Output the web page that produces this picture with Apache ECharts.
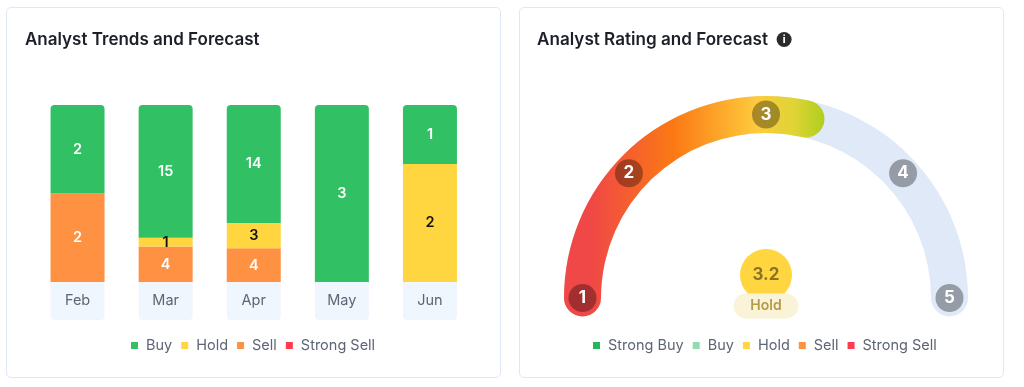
<!DOCTYPE html>
<html>
<head>
<meta charset="utf-8">
<title>Analyst charts</title>
<script src="https://cdn.jsdelivr.net/npm/echarts@6/dist/echarts.min.js"></script>
<style>
  html, body { margin: 0; padding: 0; background: #ffffff; }
  .panel { position: absolute; top: 7px; height: 371px; box-sizing: border-box;
           border: 1px solid #dfe8f6; border-radius: 5px; background: #ffffff; }
  #trends { left: 6px; width: 495px; }
  #rating { left: 519px; width: 485px; }
</style>
</head>
<body>
<div id="trends" class="panel"></div>
<div id="rating" class="panel"></div>
<script>
const FONT = 'Inter';
const months = ['Feb', 'Mar', 'Apr', 'May', 'Jun'];
const buy = [2, 15, 14, 3, 1];
const hold = [0, 1, 3, 0, 2];
const sell = [2, 4, 4, 0, 0];
const strongSell = [0, 0, 0, 0, 0];

const ratingTicks = [1, 2, 3, 4, 5];
// where each numbered badge sits along the arc
const ratingTickPositions = [1, 1.94, 3, 4.06, 5];
const ratingTickRadii = [1, 1.01, 1, 1.01, 1];
const ratingScore = 3.2;
const ratingLabel = 'Hold';
// the coloured arc ends a little past the score in the picture
const ratingArcEnd = 3.28;
const ratingLegendNames = ['Strong Buy', 'Buy', 'Hold', 'Sell', 'Strong Sell'];
const ratingLegendColors = ['#22b85a', '#8fdcae', '#ffd640', '#ff9142', '#ff3b50'];

const totals = months.map((_, i) => buy[i] + hold[i] + sell[i] + strongSell[i]);

function stackSeries(name, values, color, labelColor, radius) {
  return {
    name: name,
    type: 'bar',
    stack: 'total',
    barWidth: 54,
    data: values.map((v, i) => (v / totals[i]) * 100),
    itemStyle: { color: color, borderRadius: radius },
    label: {
      show: true,
      position: 'inside',
      color: labelColor,
      fontFamily: FONT,
      fontSize: 14.5,
      fontWeight: 600,
      formatter: (p) => (values[p.dataIndex] ? String(values[p.dataIndex]) : ''),
    },
  };
}

const trendsChart = echarts.init(document.getElementById('trends'));
trendsChart.setOption({
  animation: false,
  title: {
    text: 'Analyst Trends and Forecast',
    left: 13,
    top: 18,
    textStyle: { fontFamily: FONT, fontSize: 17, fontWeight: 600, color: '#1b1f27' },
  },
  legend: {
    data: ['Buy', 'Hold', 'Sell', 'Strong Sell'],
    left: 119,
    top: 325,
    icon: 'rect',
    itemWidth: 7,
    itemHeight: 7,
    itemGap: 9,
    selectedMode: false,
    textStyle: { fontFamily: FONT, fontSize: 14.5, color: '#5d6675', padding: [0, 0, 0, 3] },
  },
  grid: { left: 26.5, top: 97, width: 440.5, height: 177 },
  xAxis: {
    type: 'category',
    data: months,
    axisLine: { show: false },
    axisTick: { show: false },
    axisLabel: {
      margin: 0,
      width: 54,
      height: 38,
      lineHeight: 38,
      align: 'center',
      backgroundColor: '#f0f6fd',
      borderRadius: [0, 0, 4, 4],
      color: '#5d6675',
      fontFamily: FONT,
      fontSize: 14.5,
    },
  },
  yAxis: { type: 'value', min: 0, max: 100, show: false },
  series: [
    stackSeries('Strong Sell', strongSell, '#ff3b50', '#ffffff', 0),
    stackSeries('Sell', sell, '#ff9142', '#ffffff', 0),
    stackSeries('Hold', hold, '#ffd640', '#111111', 0),
    stackSeries('Buy', buy, '#32c064', '#ffffff', [4, 4, 0, 0]),
  ],
});

const ARC_CENTER = [246, 290];
const ratingChart = echarts.init(document.getElementById('rating'));
ratingChart.setOption({
  animation: false,
  title: {
    text: 'Analyst Rating and Forecast  {i|i}',
    left: 12,
    top: 18,
    textStyle: {
      fontFamily: FONT,
      fontSize: 17.1,
      fontWeight: 600,
      color: '#1b1f27',
      rich: {
        i: {
          width: 15,
          height: 15,
          lineHeight: 15,
          align: 'center',
          borderRadius: 8,
          backgroundColor: '#2b2b2b',
          color: '#ffffff',
          fontFamily: FONT,
          fontSize: 10,
          fontWeight: 800,
        },
      },
    },
  },
  legend: {
    data: ratingLegendNames,
    left: 68,
    top: 325,
    icon: 'rect',
    itemWidth: 7,
    itemHeight: 7,
    itemGap: 9,
    selectedMode: false,
    textStyle: { fontFamily: FONT, fontSize: 14.5, color: '#5d6675', padding: [0, 0, 0, 3] },
  },
  // radius axis runs to 1.1, so radius value 1 lands on the middle of the arc (183.5px)
  polar: { center: ARC_CENTER, radius: 201.85 },
  angleAxis: { type: 'value', min: 1, max: 5, startAngle: 180, endAngle: 0, show: false },
  radiusAxis: { type: 'value', min: 0, max: 1.1, show: false },
  series: [
    {
      type: 'gauge',
      center: ARC_CENTER,
      radius: 202,
      min: 1,
      max: 5,
      startAngle: 180,
      endAngle: 0,
      z: 2,
      axisLine: { roundCap: true, lineStyle: { width: 37, color: [[1, '#e0e9f8']] } },
      progress: {
        show: true,
        width: 37,
        roundCap: true,
        itemStyle: {
          color: new echarts.graphic.LinearGradient(0, 0, 1, 0, [
            { offset: 0.1, color: '#f04747' },
            { offset: 0.42, color: '#fb7914' },
            { offset: 0.74, color: '#fecb3c' },
            { offset: 0.88, color: '#e0d436' },
            { offset: 1, color: '#aecf1f' },
          ]),
        },
      },
      pointer: { show: false },
      axisTick: { show: false },
      splitLine: { show: false },
      axisLabel: { show: false },
      anchor: { show: false },
      // the circle is the gauge title so the "Hold" pill (detail) paints over it
      title: {
        offsetCenter: [0, -23],
        width: 52,
        height: 52,
        lineHeight: 52,
        borderRadius: 26,
        backgroundColor: '#ffd640',
        color: '#8a7326',
        fontFamily: FONT,
        fontSize: 17,
        fontWeight: 700,
      },
      detail: {
        formatter: () => ratingLabel,
        offsetCenter: [0, 8],
        width: 65,
        height: 25,
        lineHeight: 25,
        padding: 0,
        borderRadius: 13,
        backgroundColor: '#faf3d8',
        color: '#b39c45',
        fontFamily: FONT,
        fontSize: 14,
        fontWeight: 600,
      },
      data: [{ value: ratingArcEnd, name: ratingScore.toFixed(1) }],
    },
    {
      type: 'scatter',
      coordinateSystem: 'polar',
      z: 5,
      symbolSize: 28,
      itemStyle: { color: 'rgba(0,0,0,0.33)', opacity: 1 },
      label: {
        show: true,
        position: 'inside',
        color: '#ffffff',
        fontFamily: FONT,
        fontSize: 17,
        fontWeight: 700,
        formatter: (p) => String(ratingTicks[p.dataIndex]),
      },
      data: ratingTickPositions.map((pos, i) => [ratingTickRadii[i], pos]),
    },
    // empty series so the legend has its five swatches
    ...ratingLegendNames.map((name, i) => ({
      name: name,
      type: 'scatter',
      coordinateSystem: 'polar',
      itemStyle: { color: ratingLegendColors[i], opacity: 1 },
      data: [],
    })),
  ],
});
</script>
</body>
</html>
